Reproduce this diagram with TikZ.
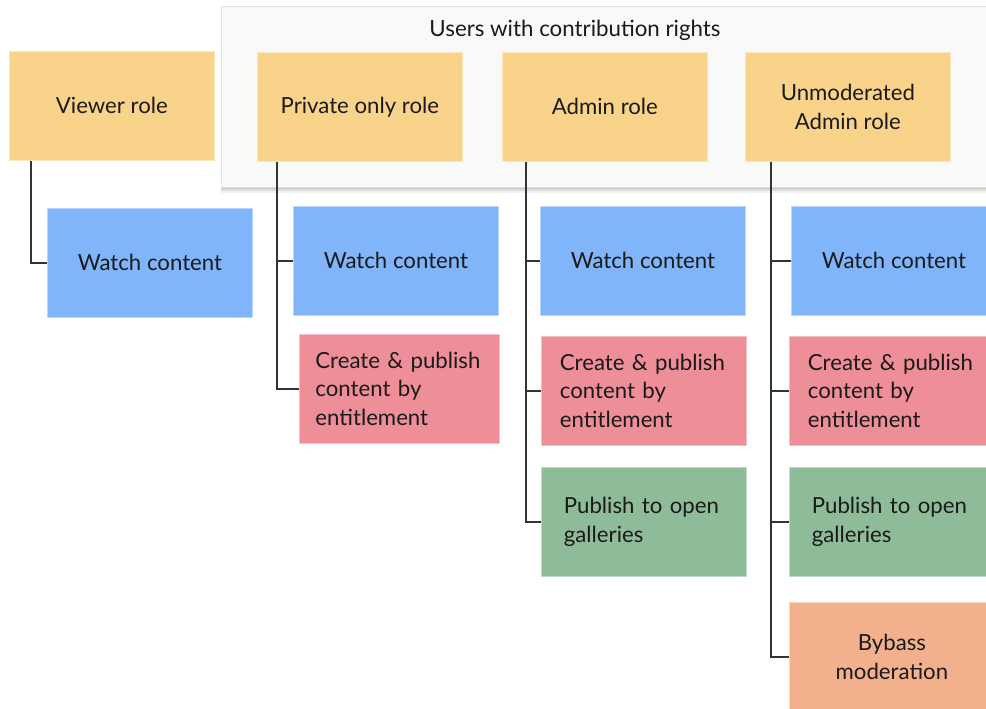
\documentclass[tikz,border=0pt]{standalone}
\usepackage{fontspec}
\setmainfont{Lato}
\usepackage{xcolor}
\usetikzlibrary{positioning,calc,shadows}

\definecolor{rolefill}{HTML}{FAD38A}
\definecolor{watchfill}{HTML}{80B5F9}
\definecolor{createfill}{HTML}{ED8E98}
\definecolor{pubfill}{HTML}{8EBB98}
\definecolor{bypassfill}{HTML}{F2B08D}
\definecolor{groupfill}{HTML}{F9F9F9}
\definecolor{groupline}{HTML}{E2E2E2}
\definecolor{ink}{HTML}{1A1A1A}
\definecolor{linkcol}{HTML}{333333}

\tikzset{
  tile/.style={minimum width=205pt, minimum height=109pt, inner sep=0pt,
    anchor=north west, fill=#1, draw=#1!55!white, line width=0.8pt,
    text=ink, font=\fontsize{22.2}{28.5}\selectfont, align=center},
  listed/.style={text width=168pt, align=left},
  link/.style={draw=linkcol, line width=1.6pt},
}

\begin{document}
\begin{tikzpicture}[x=1pt,y=-1pt]
    \useasboundingbox (0,0) rectangle (986,709);
    \clip (0,0) rectangle (986,709);

    \path[fill=black, opacity=0.06] (221,187) rectangle (1010,193);
    \path[fill=black, opacity=0.08] (221,187) rectangle (1010,191);
    \path[fill=black, opacity=0.1] (221,187) rectangle (1010,189);
    \path[fill=groupfill, draw=groupline, line width=1pt] (221,7) rectangle (1010,187);
    \node[text=ink, font=\fontsize{22.3}{26}\selectfont] (title) at (575,30) {Users with contribution rights};

    \node[tile=rolefill] (viewer) at (9,51) {Viewer role};
    \node[tile=watchfill] (vwatch) at (47,208) {Watch content};

    \node[tile=rolefill] (priv) at (257,52) {Private only role};
    \node[tile=watchfill] (pwatch) at (293,206) {Watch content};
    \node[tile=createfill, listed, minimum width=200pt] (pcreate) at (299,334) {Create \& publish\\content by\\entitlement};

    \node[tile=rolefill] (admin) at (502,52) {Admin role};
    \node[tile=watchfill] (awatch) at (540,206) {Watch content};
    \node[tile=createfill, listed] (acreate) at (541,336) {Create \& publish\\content by\\entitlement};
    \node[tile=pubfill, listed, text width=160pt] (apub) at (541,467) {Publish to open\\galleries};

    \node[tile=rolefill] (unmod) at (745,52) {Unmoderated\\Admin role};
    \node[tile=watchfill] (uwatch) at (791,206) {Watch content};
    \node[tile=createfill, listed] (ucreate) at (789,336) {Create \& publish\\content by\\entitlement};
    \node[tile=pubfill, listed, text width=160pt] (upub) at (789,467) {Publish to open\\galleries};
    \node[tile=bypassfill] (ubypass) at (789,602) {Bybass\\moderation};

    \draw[link] ($(viewer.south west)+(22,0)$) |- (vwatch.west);

    \draw[link] ($(priv.south west)+(20,0)$) |- (pwatch.west);
    \draw[link] ($(priv.south west)+(20,0)$) |- (pcreate.west);

    \draw[link] ($(admin.south west)+(24,0)$) |- (awatch.west);
    \draw[link] ($(admin.south west)+(24,0)$) |- (acreate.west);
    \draw[link] ($(admin.south west)+(24,0)$) |- (apub.west);

    \draw[link] ($(unmod.south west)+(26,0)$) |- (uwatch.west);
    \draw[link] ($(unmod.south west)+(26,0)$) |- (ucreate.west);
    \draw[link] ($(unmod.south west)+(26,0)$) |- (upub.west);
    \draw[link] ($(unmod.south west)+(26,0)$) |- (ubypass.west);
\end{tikzpicture}
\end{document}
